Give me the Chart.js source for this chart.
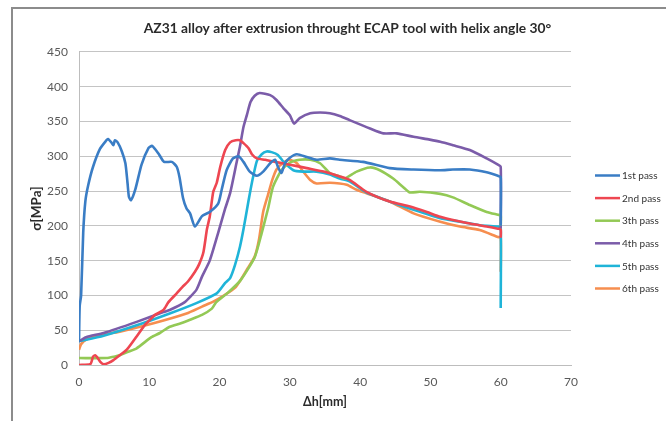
<!DOCTYPE html>
<html><head><meta charset="utf-8">
<script src="https://cdn.jsdelivr.net/npm/chart.js@4.4.1/dist/chart.umd.min.js"></script>
<style>
html,body{margin:0;padding:0;background:#fff;}
#wrap{position:relative;width:666px;height:421px;overflow:hidden;background:#fff;}
#frame{position:absolute;left:11px;top:7px;width:700px;height:500px;border-left:2px solid #8c8c8c;border-top:2px solid #8c8c8c;pointer-events:none;}
canvas{position:absolute;left:0;top:0;}
</style></head><body>
<div id="wrap"><canvas id="c" width="666" height="421"></canvas><div id="frame"></div></div>
<script>
const chartTitle = 'AZ31 alloy after extrusion throught ECAP tool with helix angle 30°';
const xTitle = 'Δh[mm]';
const yTitle = 'σ[MPa]';
const seriesNames = ['1st pass', '2nd pass', '3th pass', '4th pass', '5th pass', '6th pass'];
const seriesColors = ['#3a7dc5', '#ee4651', '#93c955', '#7b5ca9', '#1fb4d8', '#f68e4f'];
const xTicks = [0, 10, 20, 30, 40, 50, 60, 70];
const yTicks = [0, 50, 100, 150, 200, 250, 300, 350, 400, 450];

// [Δh mm, σ MPa]
const pass1 = [[0,33],[0.1,85],[0.3,100],[0.6,190],[0.9,235],[1.3,258],[2.0,285],[3.0,311],[3.9,323],[4.1,325],[4.6,320],[4.9,316],[5.1,323],[5.5,320],[6.1,307],[6.6,290],[6.9,262],[7.1,242],[7.4,237],[8.0,252],[8.9,288],[9.9,312],[10.4,315],[11.3,304],[12.1,292],[13.2,292],[13.9,285],[14.3,270],[14.8,240],[15.3,225],[15.8,218],[16.5,199],[17.5,214],[18.6,220],[19.8,232],[20.3,252],[21.0,280],[21.9,297],[22.7,300],[23.4,292],[24.3,278],[25.3,272],[26.2,278],[27.2,290],[27.9,295],[28.3,285],[28.8,276],[29.3,290],[30.0,298],[31.0,303],[32.4,299],[33.8,295],[35.7,297],[37.1,295],[40.4,292],[44.2,283],[47.6,281],[51.4,280],[53.2,281],[55.6,281],[58.0,277],[59.6,272],[60,270],[60,200]];
const pass2 = [[0,0],[1.6,1],[2.0,12],[2.3,14],[2.6,11],[3.0,5],[3.5,1],[4.2,3],[4.9,7],[5.8,14],[6.8,22],[8.2,41],[9.4,58],[10.1,65],[10.8,72],[12.0,79],[12.7,90],[13.9,103],[14.7,112],[15.5,120],[16.5,134],[17.1,145],[17.7,162],[18.2,195],[18.6,213],[19.1,249],[19.6,262],[20.1,285],[20.8,309],[21.5,320],[22.3,323],[22.9,323],[23.4,319],[24.1,312],[24.6,303],[25.3,297],[26.5,295],[27.9,292],[30.0,288],[32.4,283],[34.8,278],[37.1,271],[38.5,266],[40.9,249],[44.2,235],[47.1,228],[49.5,220],[51.4,213],[55.2,204],[58.0,199],[59.6,196],[60,195],[60,183]];
const pass3 = [[0,10],[3.9,10],[5.0,12],[5.8,14],[7.0,19],[8.2,24],[10.3,40],[11.5,46],[12.9,55],[14.5,60],[15.8,65],[17.5,72],[18.9,81],[19.5,90],[21.2,104],[23.0,122],[25.0,155],[26.0,190],[26.9,225],[27.6,256],[28.8,280],[30.0,291],[31.4,295],[32.9,295],[34.3,290],[35.7,276],[37.1,271],[37.8,268],[39.5,278],[41.4,284],[42.8,280],[44.7,268],[46.1,256],[47.1,248],[48.5,249],[51.4,246],[53.2,241],[55.6,230],[58.0,220],[59.6,216],[60,215],[60,200]];
const pass4 = [[0,34],[1.0,40],[3.5,46],[8.2,62],[12.0,76],[12.9,79],[15.0,90],[16.7,108],[17.5,127],[18.6,150],[19.8,190],[20.8,225],[21.5,247],[22.4,290],[22.9,314],[23.4,342],[23.9,360],[24.4,378],[25.0,387],[25.7,391],[27.2,388],[28.1,381],[29.1,369],[30.0,359],[30.6,347],[31.4,355],[32.9,362],[34.3,363],[35.7,362],[37.1,358],[38.5,352],[41.4,340],[43.3,333],[45.2,333],[47.6,328],[49.9,324],[51.4,321],[53.2,316],[55.6,309],[58.0,297],[59.6,288],[60,285],[60,197]];
const pass5 = [[0,34],[3.5,42],[8.2,57],[12.9,74],[16.7,89],[19.6,103],[20.8,118],[21.5,125],[22.2,144],[22.9,170],[23.4,195],[24.1,235],[24.6,262],[25.3,293],[26.0,303],[26.7,307],[27.4,306],[28.3,302],[29.1,292],[30.5,280],[31.9,278],[33.8,278],[35.7,274],[37.1,268],[38.5,264],[40.9,248],[44.2,235],[47.6,223],[51.4,211],[54.2,206],[57.0,201],[59.6,199],[60,198],[60,82]];
const pass6 = [[0,22],[0.3,30],[1.1,37],[3.0,43],[5.8,48],[10.6,60],[15.3,74],[17.5,84],[19.1,91],[20.3,98],[22.3,112],[24.0,139],[25.0,156],[25.6,180],[26.2,220],[26.9,245],[27.5,266],[28.1,281],[29.1,291],[30.0,295],[31.0,290],[31.9,278],[32.9,266],[33.8,261],[35.7,262],[37.1,261],[38.1,259],[39.5,252],[40.9,247],[44.2,235],[47.6,218],[51.4,206],[54.2,199],[57.0,194],[59.6,184],[60,183],[60,134]];
const allSeries = [pass1, pass2, pass3, pass4, pass5, pass6];

const FONT = 'Lato, "DejaVu Sans", sans-serif';

const legendPlugin = {
  id: 'sideLegend',
  afterDraw(chart) {
    const ctx = chart.ctx;
    ctx.save();
    ctx.font = '10px ' + FONT;
    ctx.textBaseline = 'middle';
    ctx.textAlign = 'left';
    chart.data.datasets.forEach((ds, i) => {
      const y = 175.5 + i * 22.6;
      ctx.strokeStyle = ds.borderColor;
      ctx.lineWidth = 2.5;
      ctx.beginPath();
      ctx.moveTo(595, y);
      ctx.lineTo(620, y);
      ctx.stroke();
      ctx.fillStyle = '#333333';
      ctx.fillText(ds.label, 622, y + 0.5);
    });
    ctx.restore();
  }
};

new Chart(document.getElementById('c'), {
  type: 'scatter',
  data: {
    datasets: allSeries.map((s, i) => ({
      label: seriesNames[i],
      data: s.map(p => ({x: p[0], y: p[1]})),
      showLine: true,
      borderColor: seriesColors[i],
      backgroundColor: seriesColors[i],
      borderWidth: 2.6,
      pointRadius: 0,
      tension: 0.2,
      fill: false
    }))
  },
  options: {
    responsive: false,
    animation: false,
    events: [],
    layout: { padding: { left: 29, right: 0, top: 0, bottom: 0 } },
    plugins: {
      legend: { display: false },
      tooltip: { enabled: false },
      title: {
        display: true,
        text: chartTitle,
        color: '#2b2b2b',
        font: { family: FONT, size: 13.8, weight: 'bold' },
        padding: { top: 20.7, bottom: 14.7 }
      }
    },
    scales: {
      x: {
        type: 'linear',
        min: xTicks[0], max: xTicks[xTicks.length - 1],
        afterBuildTicks: s => { s.ticks = xTicks.map(v => ({value: v})); },
        afterFit: s => { s.height = 56; },
        grid: { display: false, drawTicks: false },
        border: { display: true, color: '#bdbdbd', width: 1 },
        ticks: { color: '#595959', font: { family: FONT, size: 12 }, padding: 10, maxRotation: 0 },
        title: { display: true, text: xTitle, color: '#2b2b2b', font: { family: FONT, size: 12.5, weight: 'bold' }, padding: { top: 0, bottom: 11.5 } }
      },
      y: {
        type: 'linear',
        min: yTicks[0], max: yTicks[yTicks.length - 1],
        afterBuildTicks: s => { s.ticks = yTicks.map(v => ({value: v})); },
        afterFit: s => { s.width = 50; },
        grid: { color: '#c4c4c4', lineWidth: 1, drawTicks: false },
        border: { display: true, color: '#bdbdbd', width: 1 },
        ticks: { color: '#595959', font: { family: FONT, size: 12 }, padding: 11 },
        title: { display: true, text: yTitle, color: '#2b2b2b', font: { family: FONT, size: 13.5, weight: 'bold' }, padding: { top: 0, bottom: 0 } }
      },
      legendSpace: {
        type: 'linear',
        position: 'right',
        display: true,
        afterFit: s => { s.width = 95; },
        grid: { display: false, drawTicks: false },
        border: { display: false },
        ticks: { display: false },
        title: { display: false }
      }
    }
  },
  plugins: [legendPlugin]
});
</script>
</body></html>
